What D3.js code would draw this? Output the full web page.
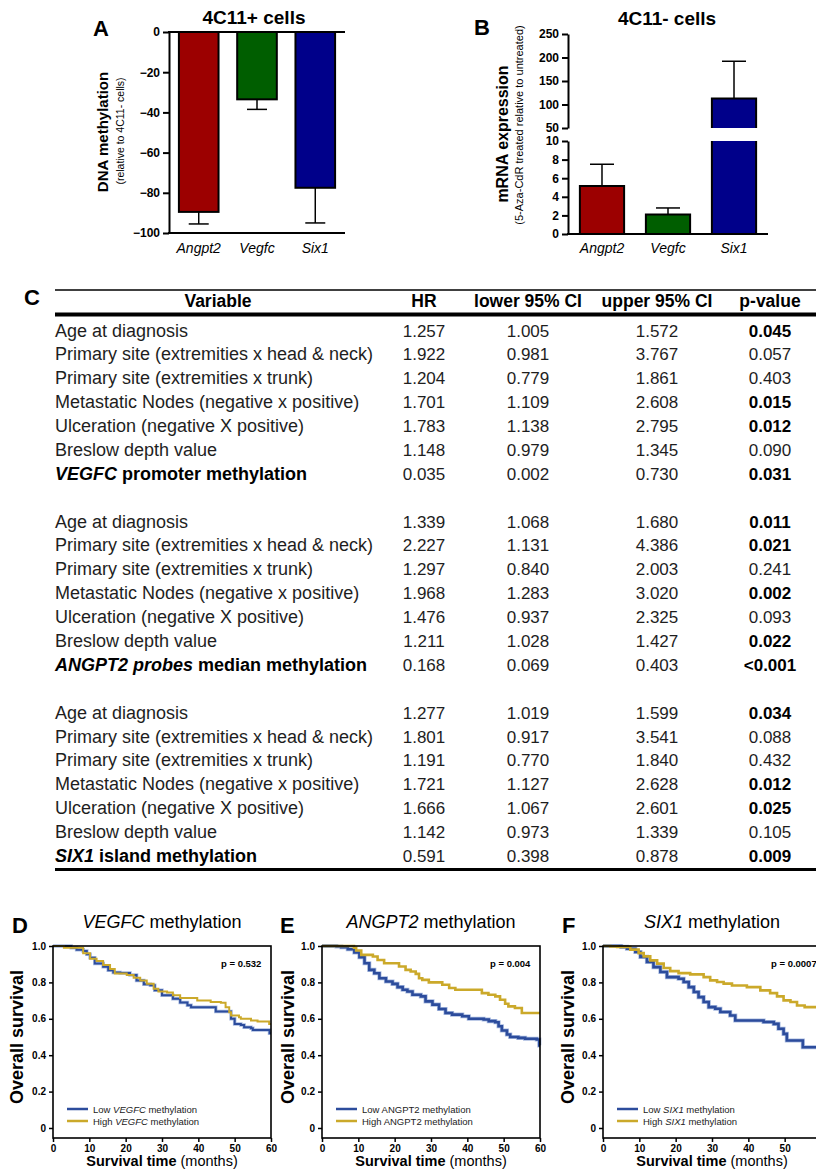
<!DOCTYPE html>
<html>
<head>
<meta charset="utf-8">
<script src="https://cdn.jsdelivr.net/npm/d3@7"></script>
<style>
body { margin: 0; background: #fff; }
svg { display: block; font-family: "Liberation Sans", Arial, sans-serif; }
</style>
</head>
<body>
<svg id="fig" width="816" height="1172"></svg>
<script>
// ---- panel A / B data
var genesAB = ["Angpt2", "Vegfc", "Six1"];
var barColors = ["#9c0000", "#005e00", "#00008a"];
var methValues = [-89.5, -33.5, -77.5];
var methErr = [6, 5, 17.5];
var mrnaValues = [5.15, 2.1, 113];
var mrnaErr = [2.35, 0.7, 79];
var ticksA = [0, -20, -40, -60, -80, -100];
var ticksBHigh = [50, 100, 150, 200, 250];
var ticksBLow = [0, 2, 4, 6, 8, 10];

// ---- panel C data
var covariates = ["Age at diagnosis", "Primary site (extremities x head & neck)", "Primary site (extremities x trunk)",
    "Metastatic Nodes (negative x positive)", "Ulceration (negative X positive)", "Breslow depth value"];
var geneRows = [["VEGFC", " promoter methylation"], ["ANGPT2 probes", " median methylation"], ["SIX1", " island methylation"]];
var headers = ["Variable", "HR", "lower 95% CI", "upper 95% CI", "p-value"];
var hr1 = [1.257, 1.922, 1.204, 1.701, 1.783, 1.148, 0.035];
var lo1 = [1.005, 0.981, 0.779, 1.109, 1.138, 0.979, 0.002];
var up1 = [1.572, 3.767, 1.861, 2.608, 2.795, 1.345, 0.730];
var p1 = ["0.045", "0.057", "0.403", "0.015", "0.012", "0.090", "0.031"];
var hr2 = [1.339, 2.227, 1.297, 1.968, 1.476, 1.211, 0.168];
var lo2 = [1.068, 1.131, 0.840, 1.283, 0.937, 1.028, 0.069];
var up2 = [1.680, 4.386, 2.003, 3.020, 2.325, 1.427, 0.403];
var p2 = ["0.011", "0.021", "0.241", "0.002", "0.093", "0.022", "<0.001"];
var hr3 = [1.277, 1.801, 1.191, 1.721, 1.666, 1.142, 0.591];
var lo3 = [1.019, 0.917, 0.770, 1.127, 1.067, 0.973, 0.398];
var up3 = [1.599, 3.541, 1.840, 2.628, 2.601, 1.339, 0.878];
var p3 = ["0.034", "0.088", "0.432", "0.012", "0.025", "0.105", "0.009"];

// ---- panels D-F data (Kaplan-Meier steps: time in months, survival)
var monthTicks = [0, 10, 20, 30, 40, 50, 60];
var survTicks = [0, 0.2, 0.4, 0.6, 0.8, 1.0];
var vegfcLowT = [0, 5, 6.5, 8.3, 9.3, 10.2, 11.5, 13.8, 15.2, 16.6, 18.5, 21.2, 23, 25, 26.8, 28, 30, 33, 35, 37, 38, 44.8, 49, 50, 51.7, 52.6, 54.5, 55, 59.6, 60];
var vegfcLowS = [1, 0.99, 0.98, 0.972, 0.955, 0.935, 0.904, 0.886, 0.867, 0.854, 0.852, 0.84, 0.81, 0.79, 0.784, 0.757, 0.73, 0.71, 0.69, 0.674, 0.664, 0.64, 0.60, 0.572, 0.566, 0.553, 0.548, 0.539, 0.52, 0.52];
var vegfcHighT = [0, 3, 8.3, 10.2, 12, 13.8, 15.7, 17, 20.3, 22.2, 24, 25.8, 27.7, 29, 31.4, 33, 35, 39.7, 43.4, 46.2, 47.5, 48.5, 49, 51.2, 51.7, 54.5, 56.3, 59.5, 60];
var vegfcHighS = [1, 0.99, 0.96, 0.93, 0.917, 0.895, 0.873, 0.849, 0.84, 0.825, 0.81, 0.793, 0.765, 0.75, 0.744, 0.73, 0.714, 0.70, 0.692, 0.688, 0.664, 0.636, 0.618, 0.609, 0.60, 0.59, 0.585, 0.572, 0.572];
var angpt2LowT = [0, 4, 5.3, 7.1, 8.9, 10.3, 11.7, 13, 14.4, 15.8, 17.6, 19.4, 20.8, 22.2, 23.5, 24.9, 27.2, 28.5, 30.4, 32.2, 34, 35.8, 38.6, 40.4, 44.5, 45.9, 47.7, 48.6, 49.5, 50.9, 51.8, 54, 55.9, 59.1, 59.8, 60];
var angpt2LowS = [1, 0.997, 0.993, 0.982, 0.964, 0.938, 0.905, 0.869, 0.85, 0.823, 0.805, 0.792, 0.774, 0.76, 0.75, 0.732, 0.723, 0.696, 0.678, 0.654, 0.632, 0.623, 0.614, 0.60, 0.596, 0.587, 0.581, 0.559, 0.536, 0.514, 0.50, 0.495, 0.49, 0.486, 0.454, 0.454];
var angpt2HighT = [0, 8.8, 9.4, 10.8, 14, 15.3, 17.1, 21.2, 23, 24.4, 25.8, 26.7, 27.6, 29.4, 33.1, 35, 36.7, 44, 45.8, 47.7, 49, 50.4, 51.3, 53.1, 55, 60];
var angpt2HighS = [1, 0.99, 0.975, 0.951, 0.942, 0.923, 0.905, 0.887, 0.869, 0.86, 0.847, 0.823, 0.814, 0.80, 0.787, 0.769, 0.76, 0.741, 0.732, 0.723, 0.705, 0.683, 0.668, 0.659, 0.632, 0.632];
var six1LowT = [0, 5, 6.6, 8.9, 10.3, 12.1, 13.9, 15.8, 17.6, 20.8, 22.2, 23.6, 25, 26.3, 27.7, 29.1, 30.9, 32.3, 35, 36.4, 44.2, 47, 48.3, 49.7, 50.6, 55, 60];
var six1LowS = [1, 0.995, 0.985, 0.967, 0.94, 0.912, 0.884, 0.857, 0.829, 0.82, 0.802, 0.774, 0.747, 0.719, 0.692, 0.664, 0.655, 0.637, 0.618, 0.591, 0.582, 0.572, 0.545, 0.517, 0.481, 0.444, 0.444];
var six1HighT = [0, 2, 3.9, 7.5, 9.8, 11.2, 13, 14.9, 16.7, 18.5, 20.8, 24, 27.7, 29.5, 31.4, 33.2, 35.5, 39.6, 43.3, 46, 47.9, 49.7, 51.6, 53.4, 55.5, 60];
var six1HighS = [1, 0.998, 0.995, 0.98, 0.961, 0.943, 0.921, 0.903, 0.879, 0.862, 0.851, 0.844, 0.829, 0.811, 0.802, 0.793, 0.783, 0.774, 0.756, 0.741, 0.723, 0.701, 0.692, 0.673, 0.664, 0.664];

var lowColor = "#2c4c9c";
var highColor = "#cba92a";

var svg = d3.select("#fig");
svg.append("rect").attr("width", 816).attr("height", 1172).attr("fill", "#fff");

function panelLabel(t, x, y) {
    svg.append("text").attr("x", x).attr("y", y)
        .attr("font-size", 22).attr("font-weight", "bold").text(t);
}

function styleAxis(ax, size) {
    ax.selectAll("path, line").attr("stroke", "#000").attr("stroke-width", 2);
    ax.selectAll("text").attr("font-size", size).attr("font-weight", "bold")
        .attr("fill", "#000").attr("font-family", "Liberation Sans, Arial, sans-serif");
}

// ================= Panel A
panelLabel("A", 93, 36);
var xA = d3.scaleBand().domain(genesAB).range([169, 345]).paddingInner(0.32).paddingOuter(0.17);
var yA = d3.scaleLinear().domain([-100, 0]).range([233, 32]);
var gA = svg.append("g");

gA.append("text").attr("x", 254).attr("y", 24).attr("text-anchor", "middle")
    .attr("font-size", 19).attr("font-weight", "bold").text("4C11+ cells");

gA.selectAll("rect.bar").data(methValues).enter().append("rect")
    .attr("class", "bar")
    .attr("x", (d, i) => xA(genesAB[i]))
    .attr("width", xA.bandwidth())
    .attr("y", yA(0))
    .attr("height", d => yA(d) - yA(0))
    .attr("fill", (d, i) => barColors[i])
    .attr("stroke", "#000").attr("stroke-width", 2);

gA.selectAll("line.err").data(methValues).enter().append("line")
    .attr("x1", (d, i) => xA(genesAB[i]) + xA.bandwidth() / 2)
    .attr("x2", (d, i) => xA(genesAB[i]) + xA.bandwidth() / 2)
    .attr("y1", d => yA(d))
    .attr("y2", (d, i) => yA(d - methErr[i]))
    .attr("stroke", "#000").attr("stroke-width", 1.5);
gA.selectAll("line.cap").data(methValues).enter().append("line")
    .attr("x1", (d, i) => xA(genesAB[i]) + xA.bandwidth() / 2 - 10)
    .attr("x2", (d, i) => xA(genesAB[i]) + xA.bandwidth() / 2 + 10)
    .attr("y1", (d, i) => yA(d - methErr[i]))
    .attr("y2", (d, i) => yA(d - methErr[i]))
    .attr("stroke", "#000").attr("stroke-width", 1.5);

var axA = gA.append("g").attr("transform", "translate(169,0)")
    .call(d3.axisLeft(yA).tickValues(ticksA).tickSize(6).tickSizeOuter(0).tickFormat(d3.format("d")));
styleAxis(axA, 12);
gA.append("line").attr("x1", 168).attr("x2", 345).attr("y1", yA(0)).attr("y2", yA(0))
    .attr("stroke", "#000").attr("stroke-width", 2);
gA.append("line").attr("x1", 168).attr("x2", 345).attr("y1", yA(-100)).attr("y2", yA(-100))
    .attr("stroke", "#000").attr("stroke-width", 2);

gA.selectAll("text.xl").data(genesAB).enter().append("text")
    .attr("x", d => xA(d) + xA.bandwidth() / 2).attr("y", 253)
    .attr("text-anchor", "middle").attr("font-size", 14).attr("font-style", "italic").text(d => d);

gA.append("text").attr("transform", "translate(108,132) rotate(-90)").attr("text-anchor", "middle")
    .attr("font-size", 15).attr("font-weight", "bold").text("DNA methylation");
gA.append("text").attr("transform", "translate(124,131) rotate(-90)").attr("text-anchor", "middle")
    .attr("font-size", 10.5).text("(relative to 4C11- cells)");

// ================= Panel B
panelLabel("B", 474, 35);
var xB = d3.scaleBand().domain(genesAB).range([568, 768]).paddingInner(0.33).paddingOuter(0.18);
var yBlow = d3.scaleLinear().domain([0, 10]).range([234, 141]);
var yBhigh = d3.scaleLinear().domain([50, 250]).range([128, 34]);
var gB = svg.append("g");

gB.append("text").attr("x", 667).attr("y", 25).attr("text-anchor", "middle")
    .attr("font-size", 19).attr("font-weight", "bold").text("4C11- cells");

function yB(v) { return v > 10 ? yBhigh(v) : yBlow(v); }

mrnaValues.forEach(function (v, i) {
    var x0 = xB(genesAB[i]), w = xB.bandwidth();
    var pieces = v > 10 ? [[yBlow(0), yBlow(10), false], [yBhigh(50), yBhigh(v), true]] : [[yBlow(0), yBlow(v), true]];
    pieces.forEach(function (p) {
        gB.append("rect").attr("x", x0).attr("width", w).attr("y", p[1]).attr("height", p[0] - p[1])
            .attr("fill", barColors[i]);
        var path = d3.path();
        path.moveTo(x0, p[0]);
        path.lineTo(x0, p[1]);
        if (p[2]) path.lineTo(x0 + w, p[1]); else path.moveTo(x0 + w, p[1]);
        path.lineTo(x0 + w, p[0]);
        gB.append("path").attr("d", path.toString()).attr("fill", "none")
            .attr("stroke", "#000").attr("stroke-width", 2);
    });
    var cx = x0 + w / 2;
    gB.append("line").attr("x1", cx).attr("x2", cx).attr("y1", yB(v)).attr("y2", yB(v + mrnaErr[i]))
        .attr("stroke", "#000").attr("stroke-width", 1.5);
    gB.append("line").attr("x1", cx - 12).attr("x2", cx + 12)
        .attr("y1", yB(v + mrnaErr[i])).attr("y2", yB(v + mrnaErr[i]))
        .attr("stroke", "#000").attr("stroke-width", 1.5);
});

var axBh = gB.append("g").attr("transform", "translate(568,0)")
    .call(d3.axisLeft(yBhigh).tickValues(ticksBHigh).tickSize(6).tickSizeOuter(0));
styleAxis(axBh, 12);
var axBl = gB.append("g").attr("transform", "translate(568,0)")
    .call(d3.axisLeft(yBlow).tickValues(ticksBLow).tickSize(6).tickSizeOuter(0));
styleAxis(axBl, 12);
gB.append("line").attr("x1", 567).attr("x2", 768).attr("y1", yBlow(0)).attr("y2", yBlow(0))
    .attr("stroke", "#000").attr("stroke-width", 2);

gB.selectAll("text.xl").data(genesAB).enter().append("text")
    .attr("x", d => xB(d) + xB.bandwidth() / 2).attr("y", 253)
    .attr("text-anchor", "middle").attr("font-size", 14).attr("font-style", "italic").text(d => d);

gB.append("text").attr("transform", "translate(508,134) rotate(-90)").attr("text-anchor", "middle")
    .attr("font-size", 16).attr("font-weight", "bold").text("mRNA expression");
gB.append("text").attr("transform", "translate(523,125) rotate(-90)").attr("text-anchor", "middle")
    .attr("font-size", 11).text("(5-Aza-CdR treated relative to untreated)");

// ================= Panel C (table)
panelLabel("C", 24, 305);
var colX = [218, 424, 528, 657, 770];
var gC = svg.append("g");
gC.append("line").attr("x1", 55).attr("x2", 816).attr("y1", 290).attr("y2", 290).attr("stroke", "#000").attr("stroke-width", 1.5);
gC.append("line").attr("x1", 55).attr("x2", 816).attr("y1", 314.5).attr("y2", 314.5).attr("stroke", "#000").attr("stroke-width", 4);
gC.append("line").attr("x1", 55).attr("x2", 816).attr("y1", 869.5).attr("y2", 869.5).attr("stroke", "#000").attr("stroke-width", 3);

gC.selectAll("text.hd").data(headers).enter().append("text")
    .attr("x", (d, i) => colX[i]).attr("y", 307).attr("text-anchor", "middle")
    .attr("font-size", 17.5).attr("font-weight", "bold").text(d => d);

var rowY = d3.scaleLinear().domain([0, 22]).range([336.5, 862]);
var groups = [[hr1, lo1, up1, p1], [hr2, lo2, up2, p2], [hr3, lo3, up3, p3]];
var f3 = d3.format(".3f");

groups.forEach(function (grp, gi) {
    for (var r = 0; r < 7; r++) {
        var yy = rowY(gi * 8 + r);
        var lab = gC.append("text").attr("x", 55).attr("y", yy).attr("font-size", 18).attr("fill", "#1e1e1e");
        if (r < 6) {
            lab.text(covariates[r]);
        } else {
            lab.attr("font-weight", "bold").attr("fill", "#000");
            lab.append("tspan").attr("font-style", "italic").text(geneRows[gi][0]);
            lab.append("tspan").text(geneRows[gi][1]);
        }
        [grp[0][r], grp[1][r], grp[2][r]].forEach(function (v, k) {
            gC.append("text").attr("x", colX[k + 1]).attr("y", yy).attr("text-anchor", "middle")
                .attr("font-size", 17).attr("fill", "#1e1e1e").text(f3(v));
        });
        var pv = grp[3][r];
        var sig = pv.charAt(0) === "<" || parseFloat(pv) < 0.05;
        gC.append("text").attr("x", colX[4]).attr("y", yy).attr("text-anchor", "middle")
            .attr("font-size", 17).attr("font-weight", sig ? "bold" : "normal")
            .attr("fill", sig ? "#000" : "#1e1e1e").text(pv);
    }
});

// ================= Panels D-F (survival curves)
function drawKM(cfg) {
    var x = d3.scaleLinear().domain([0, 60]).range([cfg.x0, cfg.x0 + 218]);
    var y = d3.scaleLinear().domain([-0.055, 1]).range([1138, 946]);
    var g = svg.append("g");
    panelLabel(cfg.label, cfg.labelX, 933);

    var title = g.append("text").attr("x", cfg.x0 + 109).attr("y", 928).attr("text-anchor", "middle").attr("font-size", 18);
    title.append("tspan").attr("font-style", "italic").text(cfg.gene);
    title.append("tspan").text(" methylation");

    var line = d3.line().curve(d3.curveStepAfter).x(d => x(d[0])).y(d => y(d[1]));
    var series = [[cfg.lowT, cfg.lowS, lowColor], [cfg.highT, cfg.highS, highColor]];
    // halo under blue curve
    g.append("path").datum(d3.zip(cfg.lowT, cfg.lowS)).attr("d", line)
        .attr("fill", "none").attr("stroke", "#a9bbe0").attr("stroke-width", cfg.lw + 1.5);
    series.forEach(function (s) {
        g.append("path").datum(d3.zip(s[0], s[1])).attr("d", line)
            .attr("fill", "none").attr("stroke", s[2]).attr("stroke-width", cfg.lw);
    });

    g.append("rect").attr("x", cfg.x0).attr("y", 946).attr("width", 218).attr("height", 192)
        .attr("fill", "none").attr("stroke", "#000").attr("stroke-width", 1.6);

    var ay = g.append("g").attr("transform", "translate(" + cfg.x0 + ",0)")
        .call(d3.axisLeft(y).tickValues(survTicks).tickSize(4).tickSizeOuter(0)
            .tickFormat(d => d === 0 ? "0" : d3.format(".1f")(d)));
    styleAxis(ay, 10);
    ay.select(".domain").remove();
    // only ticks that fall inside the page (panel F runs past the right edge)
    var ax = g.append("g").attr("transform", "translate(0,1138)")
        .call(d3.axisBottom(x).tickValues(monthTicks.filter(t => x(t) < 812)).tickSize(4).tickSizeOuter(0));
    styleAxis(ax, 10);
    ax.select(".domain").remove();
    ay.selectAll("line").attr("stroke-width", 1.5);
    ax.selectAll("line").attr("stroke-width", 1.5);

    g.append("text").attr("x", cfg.x0 + 168).attr("y", 967).attr("font-size", 9.5).attr("font-weight", "bold").text(cfg.p);

    var legY = [1109, 1121];
    ["Low", "High"].forEach(function (lv, k) {
        g.append("line").attr("x1", cfg.x0 + 14).attr("x2", cfg.x0 + 35).attr("y1", legY[k]).attr("y2", legY[k])
            .attr("stroke", k === 0 ? lowColor : highColor).attr("stroke-width", 2.5);
        var t = g.append("text").attr("x", cfg.x0 + 40).attr("y", legY[k] + 3.5).attr("font-size", 9.5).attr("fill", "#222");
        t.append("tspan").text(lv + " ");
        t.append("tspan").attr("font-style", cfg.legItalic ? "italic" : "normal").text(cfg.gene);
        t.append("tspan").text(" methylation");
    });

    g.append("text").attr("transform", "translate(" + (cfg.yLabX + 7) + ",1037) rotate(-90)")
        .attr("text-anchor", "middle").attr("font-size", 18).attr("font-weight", "bold").text("Overall survival");
    var xl = g.append("text").attr("x", cfg.x0 + 109).attr("y", 1166).attr("text-anchor", "middle").attr("font-size", 14.5);
    xl.append("tspan").attr("font-weight", "bold").text("Survival time");
    xl.append("tspan").text(" (months)");
}

drawKM({ label: "D", labelX: 12, x0: 53, yLabX: 16, gene: "VEGFC", legItalic: true, p: "p = 0.532", lw: 2,
    lowT: vegfcLowT, lowS: vegfcLowS, highT: vegfcHighT, highS: vegfcHighS });
drawKM({ label: "E", labelX: 280, x0: 322, yLabX: 287, gene: "ANGPT2", legItalic: false, p: "p = 0.004", lw: 2.6,
    lowT: angpt2LowT, lowS: angpt2LowS, highT: angpt2HighT, highS: angpt2HighS });
drawKM({ label: "F", labelX: 562, x0: 603, yLabX: 567, gene: "SIX1", legItalic: true, p: "p = 0.0007", lw: 2.6,
    lowT: six1LowT, lowS: six1LowS, highT: six1HighT, highS: six1HighS });
</script>
</body>
</html>
